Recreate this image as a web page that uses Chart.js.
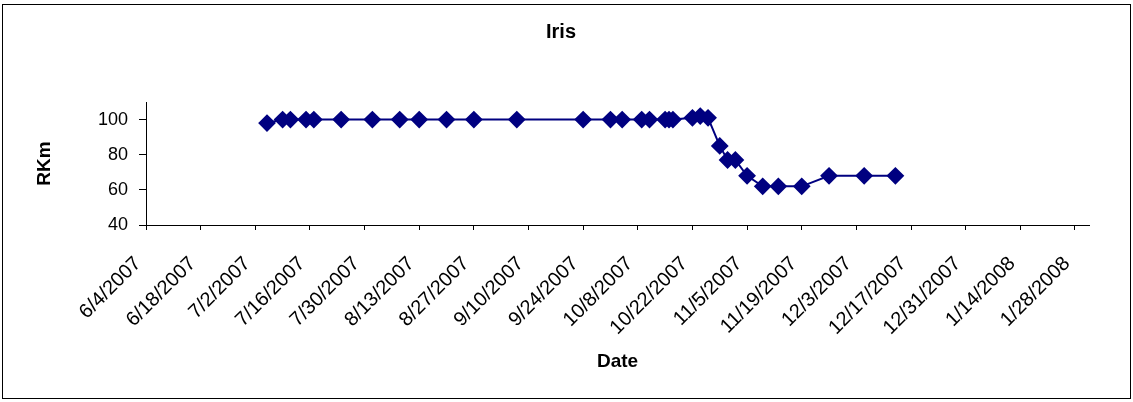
<!DOCTYPE html>
<html>
<head>
<meta charset="utf-8">
<script src="https://cdn.jsdelivr.net/npm/chart.js@4.4.1/dist/chart.umd.min.js"></script>
<style>
  html, body { margin: 0; padding: 0; background: #fff; }
  #wrap { width: 1133px; height: 402px; }
</style>
</head>
<body>
<div id="wrap"><canvas id="myChart" width="1133" height="402"></canvas></div>
<script>
var dates = ["7/5/2007", "7/9/2007", "7/11/2007", "7/15/2007", "7/17/2007", "7/24/2007",
  "8/1/2007", "8/8/2007", "8/13/2007", "8/20/2007", "8/27/2007", "9/7/2007",
  "9/24/2007", "10/1/2007", "10/4/2007", "10/9/2007", "10/11/2007", "10/15/2007",
  "10/16/2007", "10/17/2007", "10/22/2007", "10/24/2007", "10/26/2007", "10/29/2007",
  "10/31/2007", "11/2/2007", "11/5/2007", "11/9/2007", "11/13/2007", "11/19/2007",
  "11/26/2007", "12/5/2007", "12/13/2007"];
var rkmValues = [98, 100, 100, 100, 100, 100,
  100, 100, 100, 100, 100, 100,
  100, 100, 100, 100, 100, 100,
  100, 100, 101, 102, 101, 85,
  77, 77, 68, 62, 62, 62,
  68, 68, 68];
var xTickLabels = ["6/4/2007", "6/18/2007", "7/2/2007", "7/16/2007", "7/30/2007", "8/13/2007",
  "8/27/2007", "9/10/2007", "9/24/2007", "10/8/2007", "10/22/2007", "11/5/2007",
  "11/19/2007", "12/3/2007", "12/17/2007", "12/31/2007", "1/14/2008", "1/28/2008"];
var yTickValues = [40, 60, 80, 100];

// days since 6/4/2007
function toDay(s) {
  var p = s.split("/");
  return (Date.UTC(+p[2], +p[0] - 1, +p[1]) - Date.UTC(2007, 5, 4)) / 86400000;
}

var points = dates.map(function (d, i) { return { x: toDay(d), y: rkmValues[i] }; });
var navy = "#000080";
var fontFam = "'Liberation Sans', Arial, sans-serif";

var frame = {
  id: "frame",
  afterDraw: function (chart) {
    var ctx = chart.ctx;
    ctx.save();
    ctx.strokeStyle = "#000";
    ctx.lineWidth = 1;
    ctx.strokeRect(2.5, 4.5, 1128, 394);
    ctx.restore();
  }
};

new Chart("myChart", {
  type: "line",
  data: {
    datasets: [
      {
        data: points,
        borderColor: navy,
        backgroundColor: navy,
        borderWidth: 2,
        pointStyle: "rectRot",
        pointRadius: 7.5,
        pointHoverRadius: 7.5,
        fill: false,
        tension: 0
      }
    ]
  },
  options: {
    responsive: false,
    animation: false,
    layout: { padding: { left: 33, right: 44, top: 0, bottom: 29 } },
    plugins: {
      legend: { display: false },
      tooltip: { enabled: false },
      title: {
        display: true,
        text: "Iris",
        color: "#000",
        font: { family: fontFam, size: 20, weight: "bold" },
        padding: { top: 20, bottom: 58 }
      }
    },
    scales: {
      x: {
        type: "linear",
        min: 0,
        max: 241.6,
        afterBuildTicks: function (scale) {
          scale.ticks = xTickLabels.map(function (s) { return { value: toDay(s) }; });
        },
        afterFit: function (scale) { scale.height = 148; },
        ticks: {
          autoSkip: false,
          minRotation: 45,
          maxRotation: 45,
          color: "#000",
          font: { family: fontFam, size: 20 },
          padding: 22,
          labelOffset: -8,
          callback: function (value, index) { return xTickLabels[index]; }
        },
        grid: { drawOnChartArea: false, drawTicks: true, tickLength: 5, color: "#000" },
        border: { display: true, color: "#000" },
        title: {
          display: true,
          text: "Date",
          color: "#000",
          font: { family: fontFam, size: 19, weight: "bold" },
          padding: 0
        }
      },
      y: {
        min: 40,
        max: 110,
        afterBuildTicks: function (scale) {
          scale.ticks = yTickValues.map(function (v) { return { value: v }; });
        },
        afterFit: function (scale) { scale.width = 113; },
        ticks: {
          color: "#000",
          font: { family: fontFam, size: 18 },
          padding: 11
        },
        grid: { drawOnChartArea: false, drawTicks: true, tickLength: 7, color: "#000" },
        border: { display: true, color: "#000" },
        title: {
          display: true,
          text: "RKm",
          color: "#000",
          font: { family: fontFam, size: 19, weight: "bold" },
          padding: 0
        }
      }
    }
  },
  plugins: [frame]
});
</script>
</body>
</html>
